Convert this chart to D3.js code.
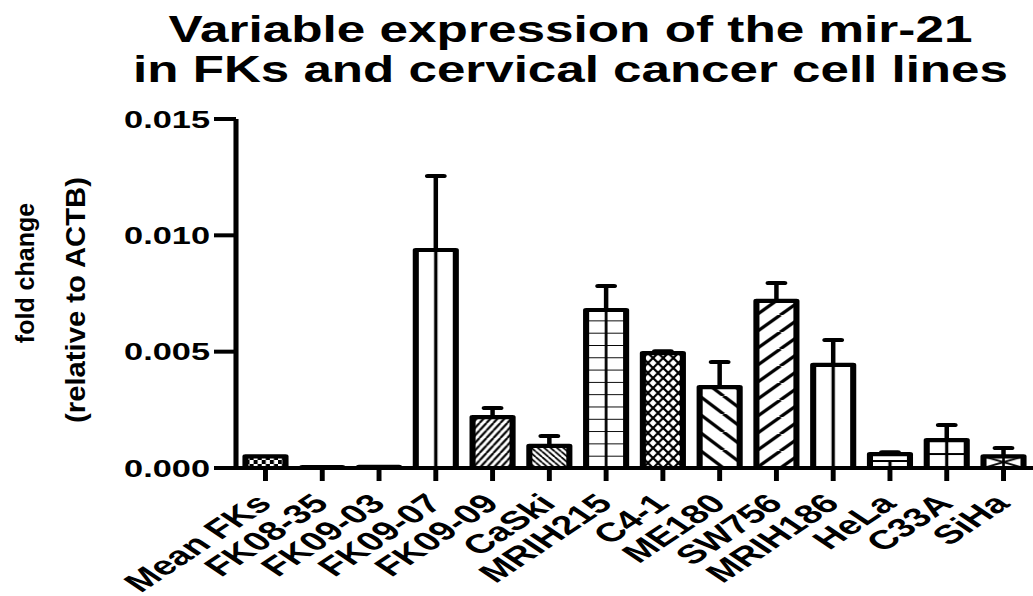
<!DOCTYPE html>
<html><head><meta charset="utf-8">
<script src="https://cdn.jsdelivr.net/npm/d3@7"></script>
<style>
html,body{margin:0;padding:0;background:#fff;}
svg{display:block;font-family:"Liberation Sans",Arial,Helvetica,sans-serif;}
</style></head><body>
<svg id="chart" width="1033" height="596"></svg>
<script>
// ---- data ----
const categories = ["Mean FKs","FK08-35","FK09-03","FK09-07","FK09-09","CaSki","MRIH215","C4-1","ME180","SW756","MRIH186","HeLa","C33A","SiHa"];
const means      = [0.0005, 0.00004, 0.00005, 0.00937, 0.00219, 0.00095, 0.00679, 0.00494, 0.00348, 0.00718, 0.00443, 0.0006, 0.0012, 0.0005];
const errors     = [0, 0, 0, 0.00318, 0.00039, 0.00043, 0.00103, 0.00008, 0.00108, 0.00077, 0.00107, 0.00008, 0.00065, 0.00036];
const fillKinds  = ["checker","plain","plain","vline","hatchR","hatchL","grid","weave","wideL","wideR","vline","hbar","cross","xcross"];
const yTicks     = [0, 0.005, 0.010, 0.015];
const titleLines = ["Variable expression of the mir-21","in FKs and cervical cancer cell lines"];
const yTitleLines= ["fold change","(relative to ACTB)"];

// ---- layout ----
const S = 1.45;           // horizontal stretch of the drawing
const svg = d3.select("#chart");
const defs = svg.append("defs");
const y = d3.scaleLinear().domain([0, 0.015]).range([468, 119]);
const x = d3.scaleBand().domain(categories).range([236 / S, 1033 / S]).paddingInner(0.295).paddingOuter(0.167);
const bw = x.bandwidth();
const plot = svg.append("g").attr("transform", `scale(${S},1)`);

// ---- per-bar patterns ----
categories.forEach((c, i) => {
  const kind = fillKinds[i];
  const x0 = x(c), top = y(means[i]), base = y(0), h = base - top;
  const mk = (w, hh, px, py) => {
    const p = defs.append("pattern").attr("id", "p" + i).attr("patternUnits", "userSpaceOnUse")
      .attr("x", px).attr("y", py).attr("width", w).attr("height", hh);
    p.append("rect").attr("width", w).attr("height", hh).attr("fill", "#fff");
    return p;
  };
  const ln = (p, d, sw) => p.append("path").attr("d", d).attr("stroke", "#000").attr("stroke-width", sw).attr("fill", "none");
  const slashR = (w, hh) => `M${-w},${hh}L0,0M0,${hh}L${w},0M${w},${hh}L${2*w},0`;
  const slashL = (w, hh) => `M${-w},0L0,${hh}M0,0L${w},${hh}M${w},0L${2*w},${hh}`;
  let p;
  switch (kind) {
    case "checker":
      p = mk(5.6, 8, x0, base);
      p.append("rect").attr("width", 2.8).attr("height", 4).attr("fill", "#000");
      p.append("rect").attr("x", 2.8).attr("y", 4).attr("width", 2.8).attr("height", 4).attr("fill", "#000");
      break;
    case "plain":
      p = mk(10, 10, x0, base);
      break;
    case "vline":
      p = mk(bw, 2000, x0, 0);
      ln(p, `M${bw/2},0V2000`, 2.3);
      break;
    case "hatchR":
      p = mk(4.8, 7.5, x0, base); ln(p, slashR(4.8, 7.5), 1.7); break;
    case "hatchL":
      p = mk(4.4, 5.5, x0, base); ln(p, slashL(4.4, 5.5), 1.5); break;
    case "wideL":
      p = mk(16.5, 18, x0, base); ln(p, slashL(16.5, 18), 2.8); break;
    case "wideR":
      p = mk(16.5, 17, x0, base); ln(p, slashR(16.5, 17), 2.8); break;
    case "grid":
      p = mk(bw, 12.3, x0, base);
      ln(p, `M${bw/2},0V12.3M0,0H${bw}`, 1.9);
      break;
    case "weave":
      p = mk(7, 10, x0, base);
      ln(p, slashR(7, 10), 1.8);
      ln(p, `M0,0L3.5,5M7,10L3.5,5`, 1.8);
      break;
    case "hbar":
      p = mk(bw, h, x0, top);
      ln(p, `M0,${h/2}H${bw}M${bw/2},${h/2}V${h}`, 2.2);
      break;
    case "cross":
      p = mk(bw, h, x0, top);
      ln(p, `M0,${h/2}H${bw}M${bw/2},0V${h}`, 2.2);
      break;
    case "xcross":
      p = mk(bw, h, x0, top);
      ln(p, `M0,0L${bw},${h}M${bw},0L0,${h}M${bw/2},0V${h}`, 1.8);
      break;
  }
});

// ---- bars ----
plot.append("g").selectAll("rect").data(categories).join("rect")
  .attr("x", d => x(d))
  .attr("y", (d, i) => y(means[i]))
  .attr("width", bw)
  .attr("height", (d, i) => y(0) - y(means[i]))
  .attr("fill", (d, i) => `url(#p${i})`)
  .attr("stroke", "#000").attr("stroke-width", 4.2).attr("stroke-linejoin", "round");

// ---- error bars ----
const eb = plot.append("g").selectAll("g").data(categories.filter((d, i) => errors[i] > 0)).join("g");
const iOf = d => categories.indexOf(d);
eb.append("line")
  .attr("x1", d => x(d) + bw / 2).attr("x2", d => x(d) + bw / 2)
  .attr("y1", d => y(means[iOf(d)]))
  .attr("y2", d => y(means[iOf(d)] + errors[iOf(d)]))
  .attr("stroke", "#000").attr("stroke-width", 3.1);
eb.append("line")
  .attr("x1", d => x(d) + bw / 2 - 5.5).attr("x2", d => x(d) + bw / 2 + 5.5)
  .attr("y1", d => y(means[iOf(d)] + errors[iOf(d)]))
  .attr("y2", d => y(means[iOf(d)] + errors[iOf(d)]))
  .attr("stroke", "#000").attr("stroke-width", 4).attr("stroke-linecap", "round");

// ---- axes ----
const xAx = plot.append("g").attr("transform", `translate(0,${y(0)})`)
  .call(d3.axisBottom(x).tickSize(13).tickSizeOuter(0).tickFormat("").offset(0));
xAx.select(".domain").attr("stroke-width", 4);
xAx.selectAll(".tick line").attr("stroke-width", 3.4);

const yAx = plot.append("g").attr("transform", `translate(${236 / S},0)`)
  .call(d3.axisLeft(y).tickValues(yTicks).tickSize(22 / S).tickSizeOuter(0).tickFormat("").offset(0));
yAx.select(".domain").attr("stroke-width", 3.5);
yAx.selectAll(".tick line").attr("stroke-width", 4);

// ---- helper: stretch horizontal text to a target width (screen-space scale) ----
function stretch(sel, base, target) {
  sel.each(function (d, i) {
    const n = this.getComputedTextLength();
    d3.select(this).attr("transform", base(d, i) + ` scale(${target(d, i) / n},1)`);
  });
}

// y tick labels
const yl = svg.append("g").selectAll("text").data(yTicks).join("text")
  .attr("text-anchor", "end").attr("font-size", 24.5).attr("font-weight", "bold")
  .text(d => d3.format(".3f")(d));
stretch(yl, d => `translate(210,${y(d) + 8.8})`, () => 86);

// x category labels
svg.append("g").selectAll("text").data(categories).join("text")
  .attr("transform", d => `translate(${S * (x(d) + bw / 2) + 8},505) scale(1.5,1) rotate(-45)`)
  .attr("text-anchor", "end").attr("font-size", 26.5).attr("font-weight", "bold")
  .text(d => d);

// title
const titleLens = [804, 875];
const tl = svg.append("g").selectAll("text").data(titleLines).join("text")
  .attr("text-anchor", "middle").attr("font-size", 37).attr("font-weight", "bold")
  .text(d => d);
stretch(tl, (d, i) => `translate(570.5,${[42, 82][i]})`, (d, i) => titleLens[i]);

// y axis title (plain rotation; second line lengthened slightly)
svg.append("text")
  .attr("text-anchor", "middle").attr("font-weight", "bold").attr("font-size", 25)
  .attr("transform", "translate(34,273) rotate(-90)")
  .text(yTitleLines[0]);
const yt2 = svg.append("text")
  .attr("text-anchor", "middle").attr("font-weight", "bold").attr("font-size", 27)
  .text(yTitleLines[1]);
const n2 = yt2.node().getComputedTextLength();
yt2.attr("transform", `translate(85,300) scale(1,${Math.max(1, 246 / n2)}) rotate(-90)`);
</script>
</body></html>
